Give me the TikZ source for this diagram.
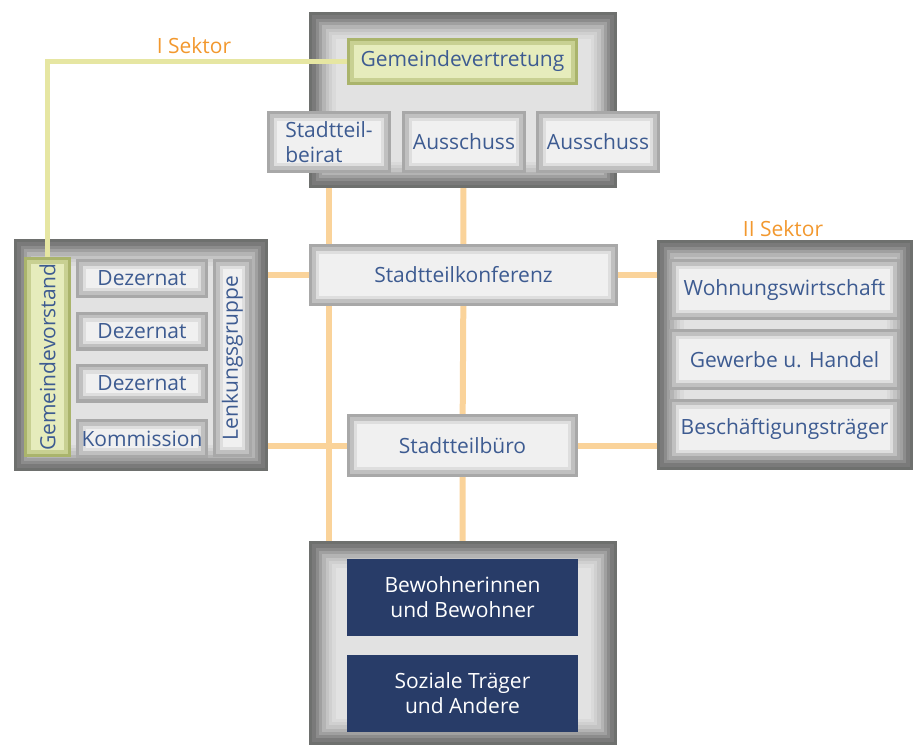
\documentclass[tikz,border=0pt]{standalone}
\usepackage{fontspec}
\setmainfont{Open Sans}
\usetikzlibrary{backgrounds}
\definecolor{schrift}{RGB}{61,91,145}
\definecolor{sektor}{RGB}{242,152,46}
\definecolor{linie}{RGB}{250,211,154}
\definecolor{gruenlinie}{RGB}{230,230,162}
\definecolor{dunkelblau}{RGB}{40,60,104}
\definecolor{rahmenfill}{RGB}{226,226,226}
\definecolor{r1}{RGB}{110,112,110}
\definecolor{r2}{RGB}{122,122,122}
\definecolor{r3}{RGB}{140,140,140}
\definecolor{r4}{RGB}{160,160,160}
\definecolor{r5}{RGB}{180,180,180}
\definecolor{r6}{RGB}{196,196,196}
\definecolor{r7}{RGB}{208,208,208}
\definecolor{r8}{RGB}{218,218,218}
\definecolor{feldfill}{RGB}{240,240,240}
\definecolor{f1}{RGB}{168,168,168}
\definecolor{f2}{RGB}{192,192,192}
\definecolor{f3}{RGB}{222,222,222}
\definecolor{gfill}{RGB}{230,236,188}
\definecolor{g1}{RGB}{170,180,108}
\definecolor{g2}{RGB}{200,208,146}
\newcommand{\schichten}[1]{\foreach \abst/\farbe in {#1}
  \draw[draw=\farbe, line width=3.4pt] ([shift={(\abst,\abst)}]path picture bounding box.north west) rectangle ([shift={(-\abst,-\abst)}]path picture bounding box.south east);}
\tikzset{
  rahmen/.style={fill=rahmenfill, inner sep=0pt, path picture={\schichten{1.7/r1,5/r2,8.3/r3,11.6/r4,14.9/r5,18.2/r6,21.5/r7,24.8/r8}}},
  feld/.style={fill=feldfill, text=schrift, inner sep=0pt, path picture={\schichten{1.7/f1,5/f2,8.3/f3}}},
  gruen/.style={fill=gfill, text=schrift, inner sep=0pt, path picture={\schichten{1.7/g1,5/g2}}},
  blau/.style={fill=dunkelblau, text=white, inner sep=0pt, align=center},
  verbindung/.style={draw=linie, line width=6pt},
}
\begin{document}
\begin{tikzpicture}[x=1pt, y=-1pt, every node/.style={font=\fontsize{21}{25}\selectfont}]
	\useasboundingbox (0,0) rectangle (918,745);
	
	\node[rahmen, minimum width=308pt, minimum height=176pt] (oben) at (463,100) {};
	\node[gruen, minimum width=231pt, minimum height=47pt] (vertretung) at (462.5,61.5) {Gemeindevertretung};
	\node[feld, minimum width=124pt, minimum height=62pt, align=left] (beirat) at (329,142) {Stadtteil-\\beirat};
	\node[feld, minimum width=124pt, minimum height=62pt] (ausschuss1) at (464,142) {Ausschuss};
	\node[feld, minimum width=124pt, minimum height=62pt] (ausschuss2) at (598,142) {Ausschuss};
	
	\node[feld, minimum width=309pt, minimum height=62pt] (konferenz) at (463.5,275) {Stadtteilkonferenz};
	\node[feld, minimum width=231pt, minimum height=63pt] (buero) at (462.5,445.5) {Stadtteilbüro};
	
	\node[rahmen, minimum width=254pt, minimum height=232pt] (links) at (141,355) {};
	\node[gruen, minimum width=47pt, minimum height=200pt] (vorstand) at (47.5,357) {\rotatebox{90}{Gemeindevorstand}};
	\node[feld, minimum width=132pt, minimum height=39pt] (dezernat1) at (142,278.5) {Dezernat};
	\node[feld, minimum width=132pt, minimum height=39pt] (dezernat2) at (142,331) {Dezernat};
	\node[feld, minimum width=132pt, minimum height=39pt] (dezernat3) at (142,383) {Dezernat};
	\node[feld, minimum width=132pt, minimum height=39pt] (kommission) at (142,438.5) {Kommission};
	\node[feld, minimum width=39pt, minimum height=198pt] (lenkung) at (232.5,358) {\rotatebox{90}{Lenkungsgruppe}};
	
	\node[rahmen, minimum width=256pt, minimum height=230pt] (rechts) at (785,355) {};
	\node[feld, minimum width=231pt, minimum height=61pt] (wohnung) at (784.5,289.5) {Wohnungswirtschaft};
	\node[feld, minimum width=231pt, minimum height=61pt] (gewerbe) at (784.5,359.5) {Gewerbe u. Handel};
	\node[feld, minimum width=231pt, minimum height=61pt] (beschaeftigung) at (784.5,429) {Beschäftigungsträger};
	
	\node[rahmen, minimum width=308pt, minimum height=204pt] (unten) at (463,643) {};
	\node[blau, minimum width=231pt, minimum height=77pt] (bewohner) at (462.5,597.5) {Bewohnerinnen\\und Bewohner};
	\node[blau, minimum width=231pt, minimum height=77pt] (traeger) at (462.5,693.5) {Soziale Träger\\und Andere};
	
	\node[text=sektor] (sektor1) at (194,46) {I Sektor};
	\node[text=sektor] (sektor2) at (783,229) {II Sektor};
	
	\begin{scope}[on background layer]
		\draw[verbindung] (oben.south -| beirat) -- (unten.north -| beirat);
		\draw[verbindung] (oben) -- (konferenz);
		\draw[verbindung] (konferenz) -- (buero);
		\draw[verbindung] (buero) -- (unten);
		\draw[verbindung] (links.east |- konferenz) -- (konferenz.west);
		\draw[verbindung] (konferenz.east) -- (rechts.west |- konferenz);
		\draw[verbindung] (links.east |- buero) -- (buero.west);
		\draw[verbindung] (buero.east) -- (rechts.west |- buero);
	\end{scope}
	
	\draw[gruenlinie, line width=4.5pt] (vertretung.west) -| (vorstand.north);
\end{tikzpicture}
\end{document}
